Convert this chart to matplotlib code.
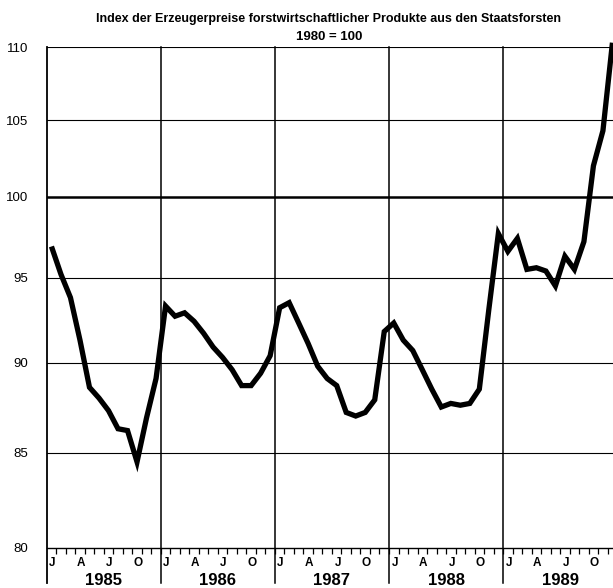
import numpy as np
import matplotlib
matplotlib.use("Agg")
import matplotlib.pyplot as plt
from matplotlib.ticker import FixedLocator, NullFormatter, NullLocator

plt.rcParams["font.family"] = ["Liberation Sans Narrow", "Liberation Sans", "DejaVu Sans"]

# monthly index values, Jan 1985 .. Dec 1989 (1980 = 100)
years = [1985, 1986, 1987, 1988, 1989]
month_letters = ["J", "A", "J", "O"]
y_ticks = [80, 85, 90, 95, 100, 105, 110]
index_1985 = [96.9, 95.2, 93.8, 91.3, 88.6, 88.0, 87.3, 86.3, 86.2, 84.5, 86.9, 89.1]
index_1986 = [93.3, 92.7, 92.9, 92.4, 91.7, 90.9, 90.3, 89.6, 88.7, 88.7, 89.4, 90.4]
index_1987 = [93.2, 93.5, 92.3, 91.1, 89.8, 89.1, 88.7, 87.2, 87.0, 87.2, 87.9, 91.8]
index_1988 = [92.3, 91.3, 90.7, 89.6, 88.5, 87.5, 87.7, 87.6, 87.7, 88.5, 93.1, 97.7]
index_1989 = [96.6, 97.4, 95.5, 95.6, 95.4, 94.5, 96.3, 95.5, 97.2, 102.0, 104.3, 110.3]

values = np.array(index_1985 + index_1986 + index_1987 + index_1988 + index_1989)
months = np.arange(len(values)) + 0.5

fig = plt.figure(figsize=(6.13, 5.88), dpi=100)
ax = fig.add_axes([46.7 / 613, 40 / 588, 570.5 / 613, 501 / 588])

ax.set_yscale("log")
ax.set_ylim(80, 110)
ax.set_xlim(0, 60)

# horizontal grid
for v in y_ticks[1:]:
    ax.axhline(v, color="black", lw=1.8 if v == 100 else 0.8, zorder=1)

# year separators, running down through the label area
for i in range(len(years)):
    ax.axvline(i * 12, ymin=-0.07, ymax=1, color="black",
               lw=1.3 if i == 0 else 1.1, clip_on=False, zorder=1)

ax.plot(months, values, color="black", lw=3.8, solid_joinstyle="miter",
        solid_capstyle="butt", clip_on=False, zorder=3)

for s in ["top", "right", "left"]:
    ax.spines[s].set_visible(False)
ax.spines["bottom"].set_linewidth(1.0)

ax.yaxis.set_major_locator(FixedLocator(y_ticks))
ax.yaxis.set_minor_locator(NullLocator())
ax.yaxis.set_minor_formatter(NullFormatter())
ax.set_yticklabels([str(v) for v in y_ticks], fontsize=9.5)
ax.tick_params(axis="y", length=0, pad=13.5)

ax.set_xticks(np.arange(1, 60))
ax.set_xticklabels([])
ax.tick_params(axis="x", direction="out", length=4, width=0.9, color="black")

trans = ax.get_xaxis_transform()
for i, yr in enumerate(years):
    for k, lab in enumerate(month_letters):
        ax.text(i * 12 + k * 3 + 0.6, -0.03, lab, transform=trans, ha="center",
                va="center", fontsize=8.5, fontweight="bold")
    ax.text(i * 12 + 6, -0.064, str(yr), transform=trans, ha="center",
            va="center", fontsize=12, fontweight="bold")

fig.text(329 / 613, 1 - 19 / 588,
         "Index der Erzeugerpreise forstwirtschaftlicher Produkte aus den Staatsforsten",
         ha="center", va="center", fontsize=9, fontweight="bold")
fig.text(329 / 613, 1 - 37 / 588, "1980 = 100", ha="center", va="center",
         fontsize=9.5, fontweight="bold")

fig.savefig("out.png", dpi=100)
